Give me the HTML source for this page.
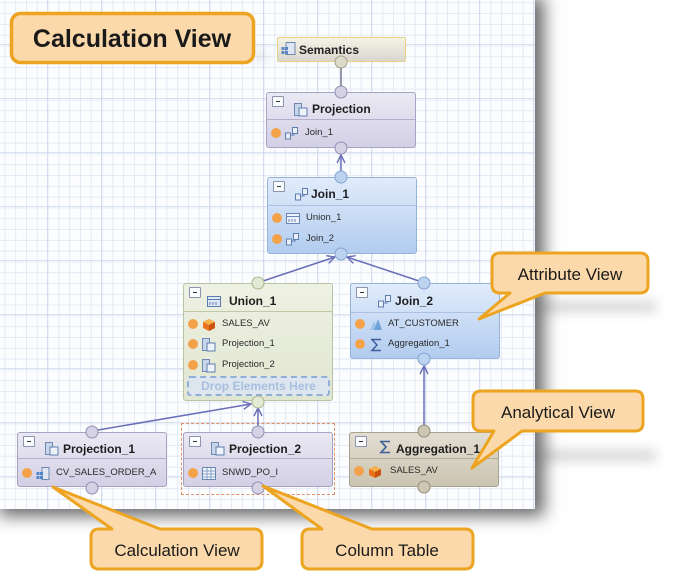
<!DOCTYPE html>
<html><head><meta charset="utf-8">
<style>
*{margin:0;padding:0;box-sizing:border-box}
html,body{width:676px;height:580px;overflow:hidden;background:#fff;font-family:"Liberation Sans",Arial,sans-serif}
#canvas{position:absolute;left:-10px;top:-10px;width:545px;height:519px;
 background-color:#fcfdff;
 background-image:
  linear-gradient(to right, rgba(190,205,230,.55) 1px, transparent 1px),
  linear-gradient(to bottom, rgba(190,205,230,.55) 1px, transparent 1px),
  linear-gradient(to right, #e3eaf5 1px, transparent 1px),
  linear-gradient(to bottom, #e3eaf5 1px, transparent 1px);
 background-size:54px 54px,54px 54px,10.8px 10.8px,10.8px 10.8px;
 background-position:3px 0px,0 0px,3.6px 0,0 1.5px;
 box-shadow:9px 7px 16px rgba(0,0,0,.6);}
.band{position:absolute;background:rgba(0,0,0,.2);filter:blur(6px)}
.node{position:absolute;border:1px solid;border-radius:3px;width:150px}
.hdr{position:absolute;left:0;right:0;top:0;border-bottom:1px solid}
.min{position:absolute;left:5px;top:3px;width:12px;height:11px;border:1px solid #8c93ad;background:#fbfcfe;border-radius:1px}
.min:after{content:"";position:absolute;left:3px;top:4px;width:4px;height:1px;background:#333}
.ttl{position:absolute;left:45px;font-weight:bold;font-size:12px;color:#1e1e1e;line-height:14px;white-space:nowrap}
.hic{position:absolute;left:27px}
.row{position:absolute;left:0;right:0;height:14px}
.dot{position:absolute;left:4px;top:2px;width:10px;height:10px;border-radius:50%;background:#f4a24a}
.ric{position:absolute;left:18px;top:1px}
.rt{position:absolute;left:38px;top:0;font-size:9.5px;line-height:14px;color:#2a2a2a;white-space:nowrap}
.proj{background:linear-gradient(#ebe9f4,#d3cfe5);border-color:#a7a3c4}
.proj .hdr{border-color:#b3afcc}
.join{background:linear-gradient(#e1ecfb,#b2ccef);border-color:#96b4da}
.join .hdr{border-color:#a9c2e4}
.uni{background:linear-gradient(#eef1e3,#e1e6d1);border-color:#b7c3a3}
.uni .hdr{border-color:#bccaa8}
.agg{background:linear-gradient(#e2ded2,#cbc4b1);border-color:#a9a18d}
.agg .hdr{border-color:#b3ab98}
svg{position:absolute;left:0;top:0}
</style></head><body>
<div id="canvas"></div>

<div class="band" style="left:540px;top:302px;width:116px;height:9px"></div>
<div class="band" style="left:540px;top:451px;width:116px;height:9px"></div>
<div class="band" style="left:254px;top:52px;width:12px;height:8px;background:rgba(0,0,0,.15)"></div>

<!-- Semantics -->
<div style="position:absolute;left:277px;top:37px;width:129px;height:25px;border:1px solid #e3d287;border-radius:2px;background:linear-gradient(#f5f3e6,#d9d7cd)">
 <svg width="15" height="15" style="left:3px;top:4px"><rect x="5" y="0.5" width="9" height="12" fill="#dfe6f2" stroke="#6f88b0"/><rect x="0.5" y="5" width="3" height="3" fill="#5b86c4"/><rect x="4" y="5" width="3" height="3" fill="#5b86c4"/><rect x="0.5" y="9" width="3" height="3" fill="#5b86c4"/><rect x="4" y="9" width="3" height="3" fill="#5b86c4"/></svg>
 <div style="position:absolute;left:21px;top:5px;font-weight:bold;font-size:12px;line-height:14px;color:#222">Semantics</div>
</div>

<!-- Projection -->
<div class="node proj" style="left:266px;top:92px;height:56px">
 <div class="hdr" style="height:27px"></div>
 <div class="min"></div>
 <svg class="hic" width="14" height="14" style="left:27px;top:10px"><rect x="0.5" y="0.5" width="7" height="12" fill="#c9d5e8" stroke="#6f8bb5"/><rect x="5" y="5" width="8" height="8" fill="#eef2f9" stroke="#5f7fae"/></svg>
 <div class="ttl" style="top:9px">Projection</div>
 <div class="row" style="top:33px"><div class="dot"></div>
  <svg class="ric" width="14" height="13"><rect x="0.5" y="6" width="5" height="6" fill="#e9eef7" stroke="#5d7dae"/><rect x="7.5" y="0.5" width="5" height="6" fill="#e9eef7" stroke="#5d7dae"/><path d="M5.5 8 H9 V6.5" fill="none" stroke="#5d7dae"/></svg>
  <div class="rt">Join_1</div></div>
</div>

<!-- Join_1 -->
<div class="node join" style="left:267px;top:177px;height:77px">
 <div class="hdr" style="height:28px"></div>
 <div class="min"></div>
 <svg width="14" height="13" style="left:27px;top:10px"><rect x="0.5" y="6" width="5" height="6" fill="#e9eef7" stroke="#5d7dae"/><rect x="7.5" y="0.5" width="5" height="6" fill="#e9eef7" stroke="#5d7dae"/><path d="M5.5 8 H9 V6.5" fill="none" stroke="#5d7dae"/></svg>
 <div class="ttl" style="top:9px;left:43px">Join_1</div>
 <div class="row" style="top:33px"><div class="dot"></div>
  <svg class="ric" width="14" height="13"><rect x="0.5" y="1.5" width="13" height="10" fill="#eef2f9" stroke="#6a86b2"/><path d="M1 4.5 H13 M3 7 V10 M6 7 V10 M9 7 V10" stroke="#6a86b2"/></svg>
  <div class="rt">Union_1</div></div>
 <div class="row" style="top:54px"><div class="dot"></div>
  <svg class="ric" width="14" height="13"><rect x="0.5" y="6" width="5" height="6" fill="#e9eef7" stroke="#5d7dae"/><rect x="7.5" y="0.5" width="5" height="6" fill="#e9eef7" stroke="#5d7dae"/><path d="M5.5 8 H9 V6.5" fill="none" stroke="#5d7dae"/></svg>
  <div class="rt">Join_2</div></div>
</div>

<!-- Union_1 -->
<div class="node uni" style="left:183px;top:283px;height:118px">
 <div class="hdr" style="height:28px"></div>
 <div class="min"></div>
 <svg width="14" height="13" style="left:23px;top:11px"><rect x="0.5" y="1.5" width="13" height="10" fill="#dfe7f4" stroke="#5d7dae"/><path d="M1 4.5 H13 M3 7 V10 M6 7 V10 M9 7 V10" stroke="#5d7dae"/></svg>
 <div class="ttl" style="top:10px">Union_1</div>
 <div class="row" style="top:33px"><div class="dot"></div>
  <svg class="ric" width="14" height="13"><polygon points="7,1 13,4 13,10 7,13 1,10 1,4" fill="#e8731c"/><polygon points="7,1 13,4 7,7 1,4" fill="#f8b04a"/><polygon points="7,7 13,4 13,10 7,13" fill="#c9520e"/></svg>
  <div class="rt">SALES_AV</div></div>
 <div class="row" style="top:53px"><div class="dot"></div>
  <svg class="ric" width="14" height="14"><rect x="0.5" y="0.5" width="7" height="12" fill="#c9d5e8" stroke="#6f8bb5"/><rect x="5" y="5" width="8" height="8" fill="#eef2f9" stroke="#5f7fae"/></svg>
  <div class="rt">Projection_1</div></div>
 <div class="row" style="top:74px"><div class="dot"></div>
  <svg class="ric" width="14" height="14"><rect x="0.5" y="0.5" width="7" height="12" fill="#c9d5e8" stroke="#6f8bb5"/><rect x="5" y="5" width="8" height="8" fill="#eef2f9" stroke="#5f7fae"/></svg>
  <div class="rt">Projection_2</div></div>
 <div style="position:absolute;left:3px;top:92px;width:143px;height:20px;border:2px dashed #93aed6;border-radius:3px;background:#dde6ee;font-weight:bold;font-size:12px;line-height:16px;color:#a8bfe0;text-align:center;white-space:nowrap">Drop Elements Here</div>
</div>

<!-- Join_2 -->
<div class="node join" style="left:350px;top:283px;height:76px">
 <div class="hdr" style="height:29px"></div>
 <div class="min"></div>
 <svg width="14" height="13" style="left:27px;top:11px"><rect x="0.5" y="6" width="5" height="6" fill="#e9eef7" stroke="#5d7dae"/><rect x="7.5" y="0.5" width="5" height="6" fill="#e9eef7" stroke="#5d7dae"/><path d="M5.5 8 H9 V6.5" fill="none" stroke="#5d7dae"/></svg>
 <div class="ttl" style="top:10px;left:44px">Join_2</div>
 <div class="row" style="top:33px"><div class="dot"></div>
  <svg class="ric" width="14" height="13"><path d="M1 12 L5 3 L9 12 Z" fill="#9fc3e8"/><path d="M5 12 L9 1 L13 12 Z" fill="#6fa3d8"/></svg>
  <div class="rt" style="left:37px">AT_CUSTOMER</div></div>
 <div class="row" style="top:53px"><div class="dot"></div>
  <svg class="ric" width="14" height="14"><path d="M2 1.5 H12 M3 1.5 L8 7 L3 12.5 H12" fill="none" stroke="#3d5e9c" stroke-width="1.5"/></svg>
  <div class="rt" style="left:37px">Aggregation_1</div></div>
</div>

<!-- Projection_1 -->
<div class="node proj" style="left:17px;top:432px;height:55px">
 <div class="hdr" style="height:26px"></div>
 <div class="min"></div>
 <svg width="14" height="14" style="left:27px;top:9px"><rect x="0.5" y="0.5" width="7" height="12" fill="#c9d5e8" stroke="#6f8bb5"/><rect x="5" y="5" width="8" height="8" fill="#eef2f9" stroke="#5f7fae"/></svg>
 <div class="ttl" style="top:9px">Projection_1</div>
 <div class="row" style="top:33px"><div class="dot"></div>
  <svg class="ric" width="14" height="13"><rect x="6" y="0.5" width="7" height="12" fill="#dfe6f2" stroke="#6f88b0"/><rect x="0.5" y="5" width="3" height="3" fill="#4f86c8"/><rect x="4" y="5" width="3" height="3" fill="#4f86c8"/><rect x="0.5" y="9" width="3" height="3" fill="#4f86c8"/><rect x="4" y="9" width="3" height="3" fill="#4f86c8"/></svg>
  <div class="rt">CV_SALES_ORDER_A</div></div>
</div>

<!-- Projection_2 -->
<div style="position:absolute;left:181px;top:423px;width:154px;height:72px;border:1px dashed #e39060"></div>
<div class="node proj" style="left:183px;top:432px;height:55px">
 <div class="hdr" style="height:26px"></div>
 <div class="min"></div>
 <svg width="14" height="14" style="left:27px;top:9px"><rect x="0.5" y="0.5" width="7" height="12" fill="#c9d5e8" stroke="#6f8bb5"/><rect x="5" y="5" width="8" height="8" fill="#eef2f9" stroke="#5f7fae"/></svg>
 <div class="ttl" style="top:9px">Projection_2</div>
 <div class="row" style="top:33px"><div class="dot"></div>
  <svg class="ric" width="14" height="13"><rect x="0.5" y="0.5" width="13" height="12" fill="#f2f5fa" stroke="#6a86b2"/><path d="M1 4 H13 M1 7 H13 M1 10 H13 M5 1 V12 M9 1 V12" stroke="#8aa3c9"/></svg>
  <div class="rt">SNWD_PO_I</div></div>
</div>

<!-- Aggregation_1 -->
<div class="node agg" style="left:349px;top:432px;height:55px">
 <div class="hdr" style="height:26px"></div>
 <div class="min"></div>
 <svg width="14" height="15" style="left:28px;top:7px"><path d="M2 1.5 H12 M3 1.5 L8 7 L3 12.5 H12" fill="none" stroke="#3d5e9c" stroke-width="1.6"/></svg>
 <div class="ttl" style="top:9px;left:46px">Aggregation_1</div>
 <div class="row" style="top:31px"><div class="dot"></div>
  <svg class="ric" width="14" height="13"><polygon points="7,1 13,4 13,10 7,13 1,10 1,4" fill="#e8731c"/><polygon points="7,1 13,4 7,7 1,4" fill="#f8b04a"/><polygon points="7,7 13,4 13,10 7,13" fill="#c9520e"/></svg>
  <div class="rt" style="left:40px">SALES_AV</div></div>
</div>

<svg width="676" height="580" viewBox="0 0 676 580">
 <defs>
  <marker id="ar" markerUnits="userSpaceOnUse" markerWidth="12" markerHeight="12" refX="9" refY="5" orient="auto">
   <path d="M1,1 L9,5 L1,9" fill="none" stroke="#6a6fb8" stroke-width="1.4"/>
  </marker>
 </defs>
 <g stroke="#6a6fb8" stroke-width="1.5" fill="none">
  <line x1="341" y1="67" x2="341" y2="87" stroke="#7a7690"/>
  <line x1="341" y1="171" x2="341" y2="155" marker-end="url(#ar)"/>
  <line x1="263" y1="281" x2="335" y2="257" marker-end="url(#ar)"/>
  <line x1="419" y1="281" x2="347" y2="257" marker-end="url(#ar)"/>
  <line x1="98" y1="430" x2="251" y2="404" marker-end="url(#ar)"/>
  <line x1="258" y1="426" x2="258" y2="408" marker-end="url(#ar)"/>
  <line x1="424" y1="425" x2="424" y2="366" marker-end="url(#ar)"/>
 </g>
 <g stroke-width="1">
  <circle cx="341" cy="62" r="6" fill="#dcdac8" stroke="#a7a38d"/>
  <circle cx="341" cy="92" r="6" fill="#d6d2e6" stroke="#938eb2"/>
  <circle cx="341" cy="148" r="6" fill="#d6d2e6" stroke="#938eb2"/>
  <circle cx="341" cy="177" r="6" fill="#bcd3f0" stroke="#85a5cf"/>
  <circle cx="341" cy="254" r="6" fill="#bcd3f0" stroke="#85a5cf"/>
  <circle cx="258" cy="283" r="6" fill="#e3ead3" stroke="#a6b78e"/>
  <circle cx="258" cy="402" r="6" fill="#e3ead3" stroke="#a6b78e"/>
  <circle cx="424" cy="283" r="6" fill="#bcd3f0" stroke="#85a5cf"/>
  <circle cx="424" cy="359" r="6" fill="#bcd3f0" stroke="#85a5cf"/>
  <circle cx="92" cy="432" r="6" fill="#d6d2e6" stroke="#938eb2"/>
  <circle cx="92" cy="488" r="6" fill="#d6d2e6" stroke="#938eb2"/>
  <circle cx="258" cy="432" r="6" fill="#d6d2e6" stroke="#938eb2"/>
  <circle cx="258" cy="488" r="6" fill="#d6d2e6" stroke="#938eb2"/>
  <circle cx="424" cy="431" r="6" fill="#ccc6b4" stroke="#958d78"/>
  <circle cx="424" cy="487" r="6" fill="#ccc6b4" stroke="#958d78"/>
 </g>

 <g stroke="#eca421" stroke-width="3" fill="#fcd9ab" stroke-linejoin="round">
  <rect x="11.5" y="13.5" width="242" height="49" rx="9" stroke-width="3.5"/>
  <path d="M500,253 H640 Q648,253 648,261 V285 Q648,293 640,293 H545 L479,319 L510,293 H500 Q492,293 492,285 V261 Q492,253 500,253 Z"/>
  <path d="M481,391 H635 Q643,391 643,399 V423 Q643,431 635,431 H522 L472,468 L494,431 H481 Q473,431 473,423 V399 Q473,391 481,391 Z"/>
  <path d="M99,529 H112 L53,487 L160,529 H254 Q262,529 262,537 V561 Q262,569 254,569 H99 Q91,569 91,561 V537 Q91,529 99,529 Z"/>
  <path d="M310,529 H322 L263,486 L372,529 H465 Q473,529 473,537 V561 Q473,569 465,569 H310 Q302,569 302,561 V537 Q302,529 310,529 Z"/>
 </g>
 <g font-family="Liberation Sans, Arial, sans-serif" fill="#1a1a1a" text-anchor="middle">
  <text x="132" y="47" font-size="25" font-weight="bold">Calculation View</text>
  <text x="570" y="280" font-size="17">Attribute View</text>
  <text x="558" y="418" font-size="17">Analytical View</text>
  <text x="177" y="556" font-size="17">Calculation View</text>
  <text x="387" y="556" font-size="17">Column Table</text>
 </g>
</svg>
</body></html>
